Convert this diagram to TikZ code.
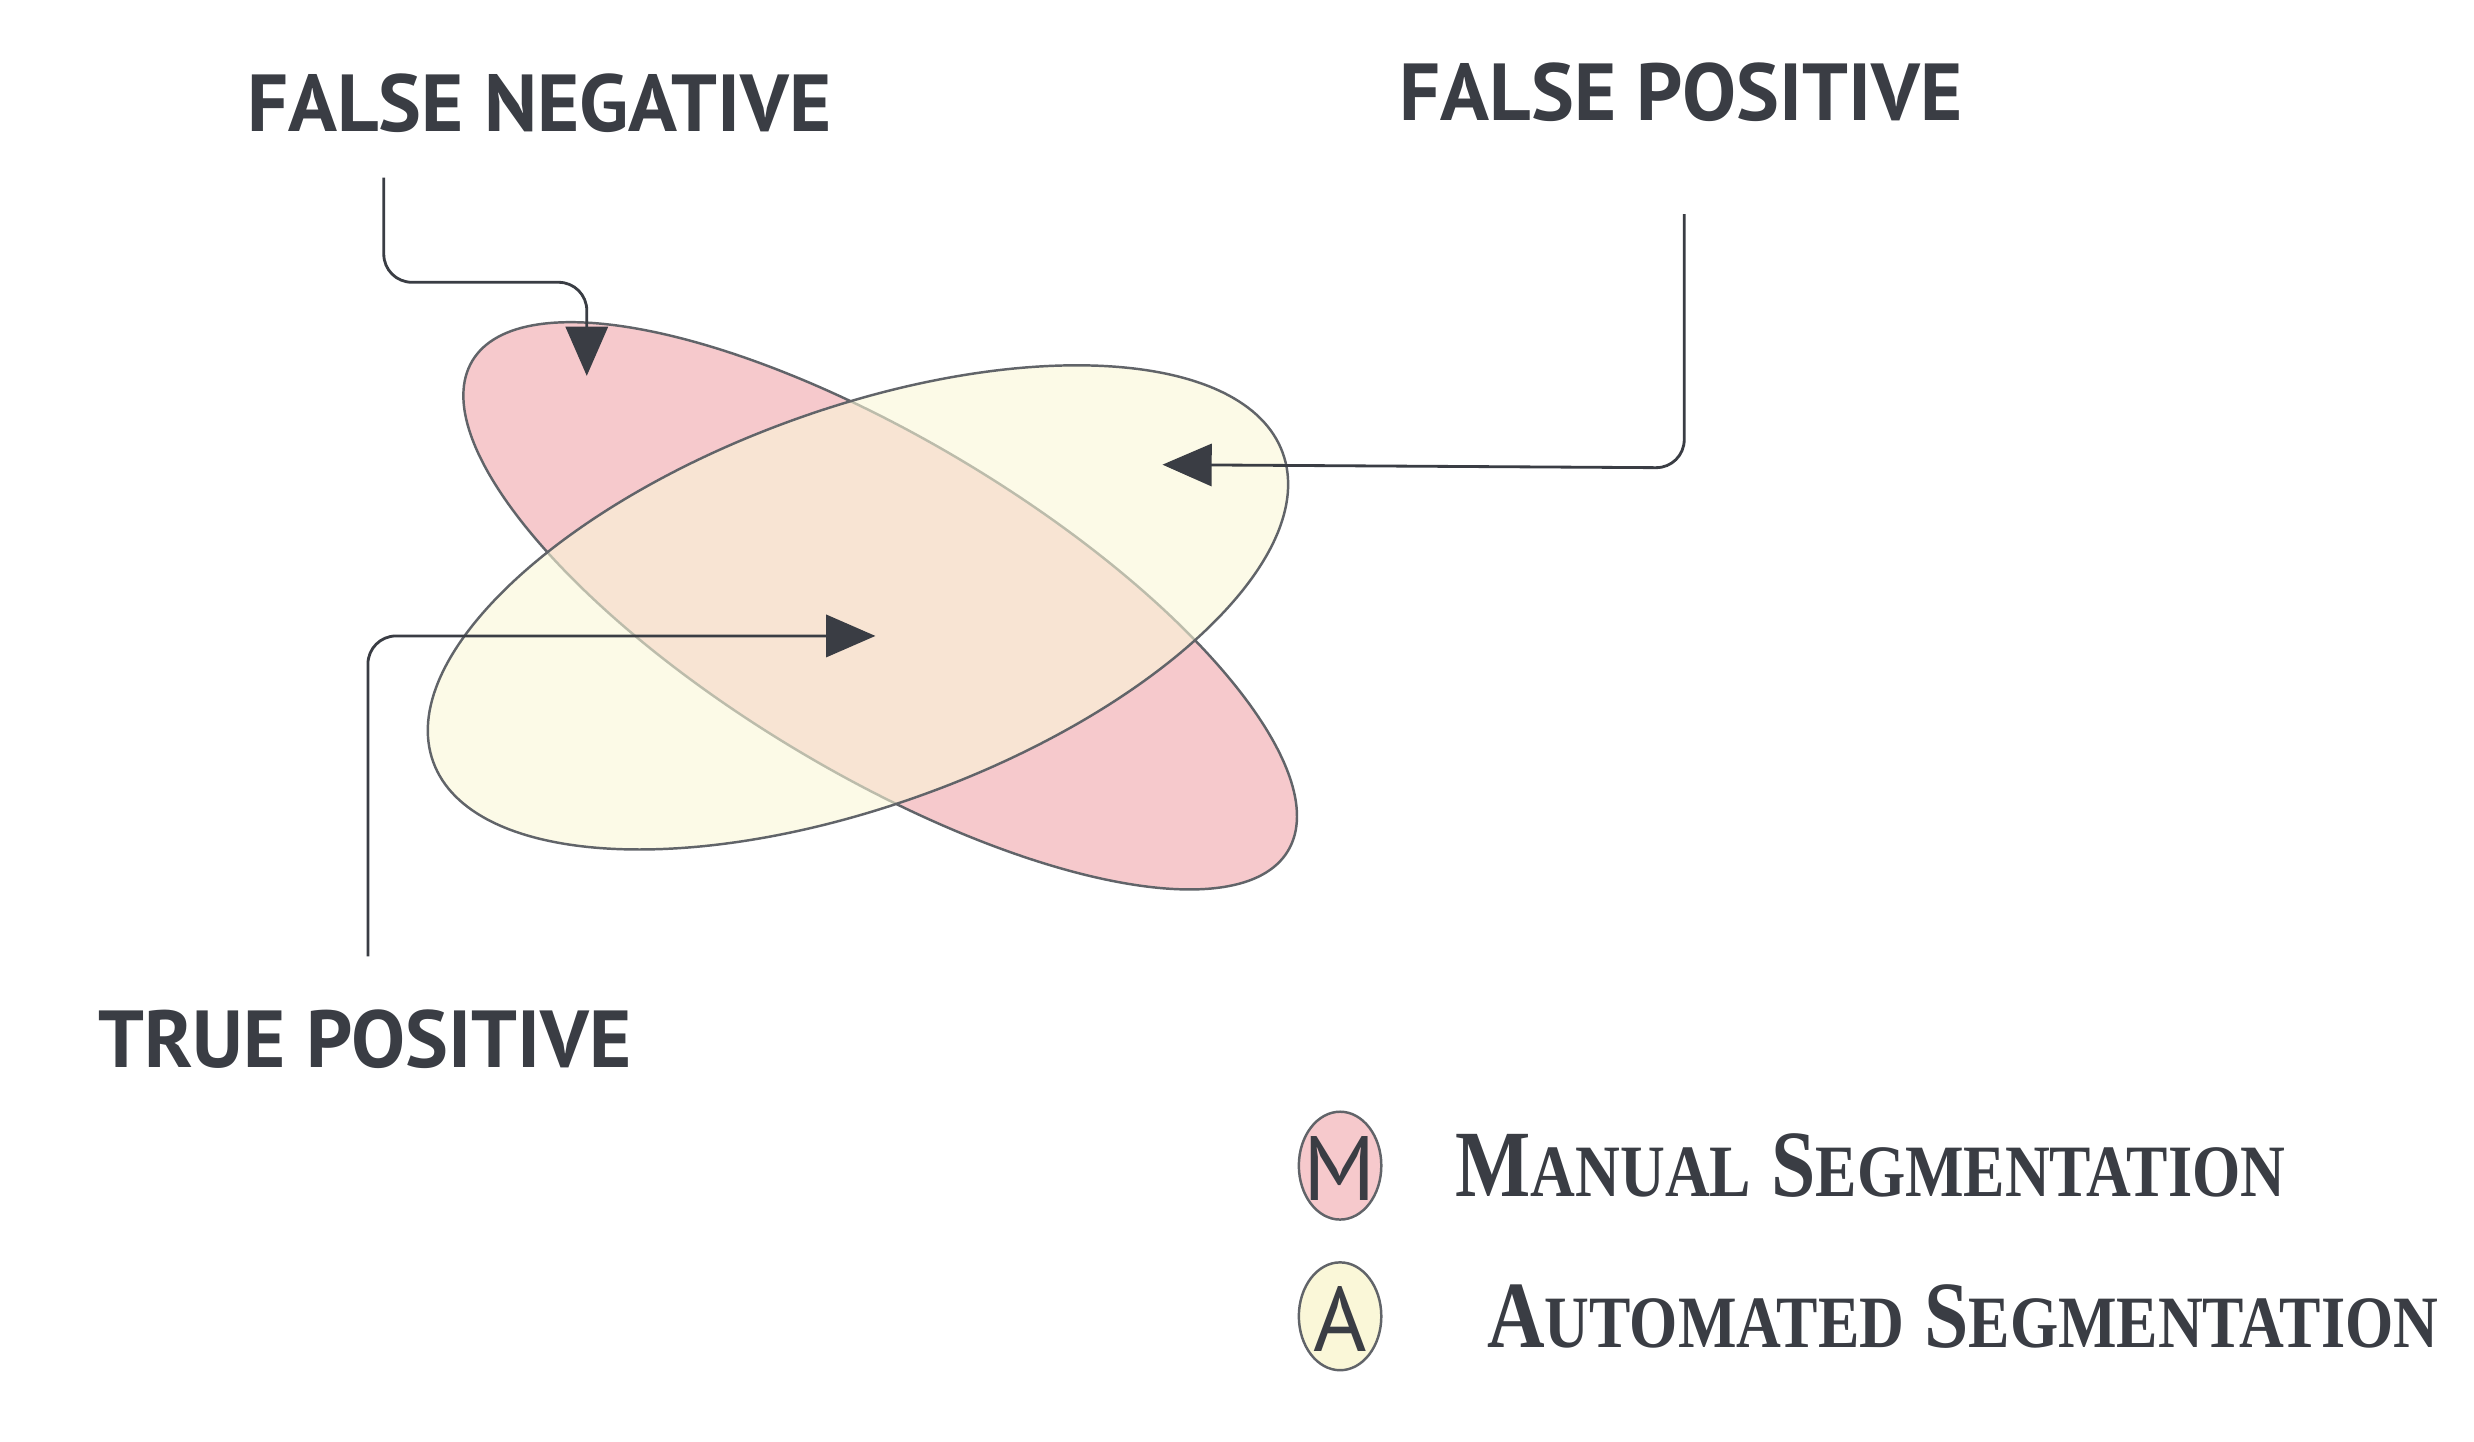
\documentclass[tikz,border=0pt]{standalone}
\usepackage{fontspec}
\setmainfont{Liberation Serif}
\newfontfamily\hand{PT Sans}
\usetikzlibrary{arrows.meta}
\definecolor{pinkf}{HTML}{F6C9CC}
\definecolor{yelf}{HTML}{FAF7D8}
\definecolor{ink}{HTML}{3A3D44}
\begin{document}
\begin{tikzpicture}[x=0.01586cm,y=-0.01586cm,
  lbl/.style={font=\hand\bfseries\fontsize{23}{26}\selectfont, text=ink},
  leg/.style={font=\bfseries\fontsize{27}{30}\selectfont, text=ink, anchor=west},
  conn/.style={draw=ink, line width=0.8pt, rounded corners=8pt, -{Triangle[length=14pt,width=12pt]}},
  outl/.style={draw=ink!80, line width=0.7pt}]
\useasboundingbox (0,0) rectangle (1560,909);
\fill[white] (0,0) rectangle (1560,909);
% ellipses
\path[outl, fill=pinkf] (555,382) ellipse[x radius=300, y radius=105, rotate=-31];
\path[outl, fill=yelf, fill opacity=0.6] (541,383) ellipse[x radius=285, y radius=125, rotate=20];
\node[lbl] (fn) at (340,65) {FALSE NEGATIVE};
\node[lbl] (fp) at (1060,58) {FALSE POSITIVE};
\node[lbl] (tp) at (230,655) {TRUE POSITIVE};
\coordinate (fns) at (242,112);
\coordinate (fnt) at (370,237);
\coordinate (fps) at (1062,135);
\coordinate (fpt) at (733,293);
\coordinate (tps) at (232,603);
\coordinate (tpt) at (552,401);
\draw[conn] (fns) -- (242,178) -- (370,178) -- (fnt);
\draw[conn] (fps) -- (1062,295) -- (fpt);
\draw[conn] (tps) -- (232,401) -- (tpt);
% legend
\path[outl, fill=pinkf] (845,735) ellipse[x radius=26, y radius=34];
\node[font=\hand\fontsize{26}{28}\selectfont, text=ink] (m) at (845,737) {M};
\path[outl, fill=yelf] (845,830) ellipse[x radius=26, y radius=34];
\node[font=\hand\fontsize{26}{28}\selectfont, text=ink] (a) at (845,832) {A};
\node[leg] (ml) at (910,735) {\scalebox{0.84}[1]{M{\fontsize{21}{24}\selectfont ANUAL} S{\fontsize{21}{24}\selectfont EGMENTATION}}};
\node[leg] (al) at (930,830) {\scalebox{0.84}[1]{A{\fontsize{21}{24}\selectfont UTOMATED} S{\fontsize{21}{24}\selectfont EGMENTATION}}};
\end{tikzpicture}
\end{document}
